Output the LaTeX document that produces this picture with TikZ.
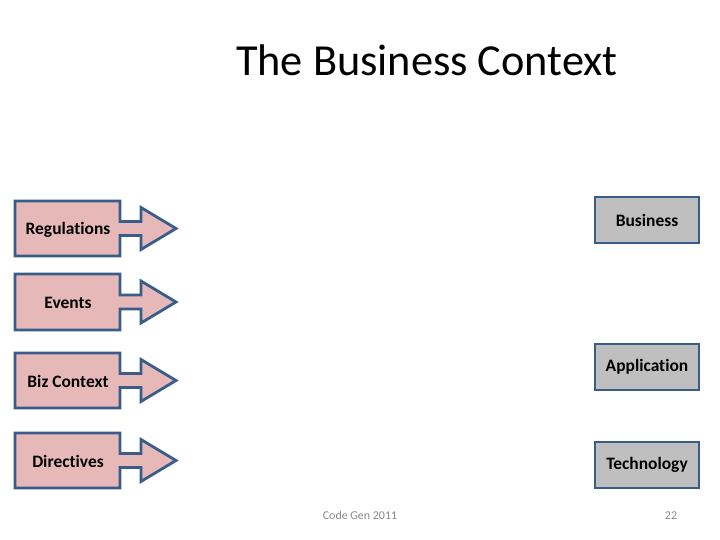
\documentclass[tikz,border=0pt]{standalone}
\usepackage{fontspec}
\setmainfont{Carlito}[Ligatures=NoCommon]
\definecolor{pinkfill}{RGB}{230,185,184}
\definecolor{blueline}{RGB}{56,93,138}
\definecolor{grayfill}{RGB}{191,191,191}
\definecolor{footgray}{RGB}{137,137,137}
\begin{document}
\begin{tikzpicture}[x=1bp,y=-1bp,
  callout/.style={draw=blueline,fill=pinkfill,line width=2.8bp,line join=miter},
  lbl/.style={font=\bfseries\fontsize{17.5}{20}\selectfont,inner sep=0pt,anchor=center},
  graybox/.style={draw=blueline,fill=grayfill,line width=2.8bp,minimum width=104bp,minimum height=46bp,inner sep=0pt,font=\bfseries\fontsize{17.5}{20}\selectfont}]
\useasboundingbox (0,0) rectangle (720,540);
\fill[white] (0,0) rectangle (720,540);
% title
\node (title) at (427,60) {\fontsize{44.5}{52}\selectfont The Business Context};
% callouts: box x 15..120, shaft to 141, head to 176
\foreach \nm/\t/\b/\txt in {reg/201/256/Regulations, evt/274/330/Events, biz/353/408/Biz Context, dir/433/488/Directives}{
  \pgfmathsetmacro{\c}{(\t+\b)/2}
  \draw[callout] (15,\t) -- (120,\t) -- (120,\c-7) -- (141,\c-7) -- (141,\c-21)
     -- (176,\c) -- (141,\c+21) -- (141,\c+7) -- (120,\c+7) -- (120,\b) -- (15,\b) -- cycle;
  \node[lbl] (\nm) at (68,\c+1) {\txt};
}
% right boxes
\node[graybox] (bus) at (647,220) {Business};
\node[graybox] (app) at (647,367) {Application};
\node[graybox] (tec) at (647,465) {Technology};
% footer
\node[text=footgray,font=\fontsize{12}{14}\selectfont] (foot) at (360,515) {Code Gen 2011};
\node[text=footgray,font=\fontsize{12}{14}\selectfont] (page) at (671,515.5) {22};
\end{tikzpicture}
\end{document}
